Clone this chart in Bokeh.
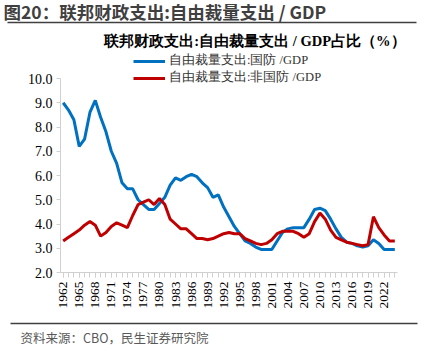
import math
from bokeh.plotting import figure
from bokeh.layouts import column
from bokeh.models import (ColumnDataSource, FixedTicker, Legend, LegendItem, Range1d,
                          CustomJSTickFormatter)
from bokeh.core.properties import value
from bokeh.embed import file_html
from bokeh.resources import INLINE

years = list(range(1962, 2025))
defense = [9.0, 8.7, 8.3, 7.2, 7.5, 8.6, 9.1, 8.4, 7.8, 7.0, 6.5, 5.7, 5.45, 5.45, 5.0,
           4.8, 4.6, 4.6, 4.85, 5.1, 5.6, 5.9, 5.8, 5.95, 6.05, 5.95, 5.7, 5.5, 5.1, 5.2,
           4.7, 4.3, 3.9, 3.6, 3.3, 3.2, 3.05, 2.95, 2.95, 2.95, 3.3, 3.65, 3.8, 3.85, 3.85,
           3.85, 4.2, 4.6, 4.65, 4.55, 4.2, 3.8, 3.45, 3.25, 3.2, 3.1, 3.05, 3.1, 3.35,
           3.2, 2.95, 2.95, 2.95]
nondefense = [3.3, 3.45, 3.6, 3.75, 3.95, 4.1, 3.95, 3.5, 3.65, 3.9, 4.05, 3.95, 3.85,
              4.35, 4.8, 4.9, 5.0, 4.8, 5.05, 4.8, 4.2, 4.0, 3.8, 3.8, 3.6, 3.4, 3.4, 3.35,
              3.4, 3.5, 3.6, 3.65, 3.6, 3.6, 3.4, 3.3, 3.2, 3.15, 3.2, 3.35, 3.6, 3.7, 3.7,
              3.7, 3.6, 3.45, 3.6, 4.1, 4.45, 4.2, 3.75, 3.45, 3.35, 3.25, 3.2, 3.15, 3.1,
              3.15, 4.3, 3.85, 3.55, 3.3, 3.3]
label_years = list(range(1962, 2025, 3))
y_ticks = [2.0, 3.0, 4.0, 5.0, 6.0, 7.0, 8.0, 9.0, 10.0]

title_text = "图20：联邦财政支出:自由裁量支出  / GDP"
subtitle_text = "联邦财政支出:自由裁量支出 / GDP占比（%）"
series_names = ["自由裁量支出:国防 /GDP", "自由裁量支出:非国防 /GDP"]
source_text = "资料来源：CBO，民生证券研究院"

SERIF = "Liberation Serif"
SANS = "Noto Sans CJK SC"
W = 426


def blank(height):
    f = figure(width=W, height=height, output_backend="svg", toolbar_location=None,
               x_range=Range1d(0, W), y_range=Range1d(height, 0),
               x_axis_location=None, y_axis_location=None, min_border=0,
               frame_align=False)
    f.outline_line_color = None
    f.grid.visible = False
    return f


# ---- header ----
top = blank(50)
top.text(x=[3], y=[11], text=[title_text], text_font=value(SANS), text_font_size="17.5px",
         text_font_style="bold", text_color="#404040", text_baseline="middle")
top.segment(x0=[7], y0=[22], x1=[416], y1=[22], line_color="#404040", line_width=1.5)
top.text(x=[405], y=[40], text=[subtitle_text], text_font=value(SERIF),
         text_font_size="14.5px", text_font_style="bold", text_color="black",
         text_baseline="middle", text_align="right")

# ---- main chart ----
src = ColumnDataSource(dict(year=years, d=defense, n=nondefense))
p = figure(width=W, height=270, output_backend="svg", toolbar_location=None,
           x_range=Range1d(1961.5, 2024.5), y_range=Range1d(2.0, 11.155),
           min_border_left=60, min_border_right=29, min_border_top=0, min_border_bottom=48,
           frame_align=False)
p.outline_line_color = None
p.grid.visible = False

r1 = p.line("year", "d", source=src, line_color="#0070C0", line_width=3)
r2 = p.line("year", "n", source=src, line_color="#C00000", line_width=3)

xa = p.xaxis[0]
xa.ticker = FixedTicker(ticks=label_years, minor_ticks=years)
xa.major_label_orientation = math.pi / 2
xa.major_label_text_font = SERIF
xa.major_label_text_font_size = "13.5px"
xa.major_label_text_color = "black"
xa.axis_line_color = "#d0d0d0"
xa.major_tick_line_color = "#d0d0d0"
xa.minor_tick_line_color = "#d0d0d0"
xa.major_tick_out = 5
xa.major_tick_in = 0
xa.minor_tick_out = 5
xa.minor_tick_in = 0
xa.major_label_standoff = 4

ya = p.yaxis[0]
ya.ticker = FixedTicker(ticks=y_ticks, minor_ticks=[])
ya.bounds = (2.0, 10.0)
ya.formatter = CustomJSTickFormatter(code="return tick.toFixed(1);")
ya.major_label_text_font = SERIF
ya.major_label_text_font_size = "14px"
ya.major_label_text_color = "black"
ya.axis_line_color = "#d0d0d0"
ya.major_tick_line_color = "#d0d0d0"
ya.major_tick_out = 4
ya.major_tick_in = 0
ya.major_label_standoff = 4

legend = Legend(items=[LegendItem(label=series_names[0], renderers=[r1]),
                       LegendItem(label=series_names[1], renderers=[r2])],
                location=(73, 186), orientation="vertical",
                label_text_font=SERIF, label_text_font_size="12.5px",
                label_text_color="#333333", glyph_width=32, glyph_height=14,
                label_height=14, label_standoff=4, spacing=0, padding=0, margin=0,
                border_line_color=None, background_fill_alpha=0)
p.add_layout(legend)

# ---- footer ----
bot = blank(36)
bot.segment(x0=[10], y0=[3], x1=[417], y1=[3], line_color="#404040", line_width=1.5)
bot.text(x=[20], y=[17], text=[source_text], text_font=value(SANS),
         text_font_size="12.5px", text_color="#595959", text_baseline="middle")

layout = column(top, p, bot, spacing=0)
open("out.html", "w").write(file_html(layout, INLINE))
